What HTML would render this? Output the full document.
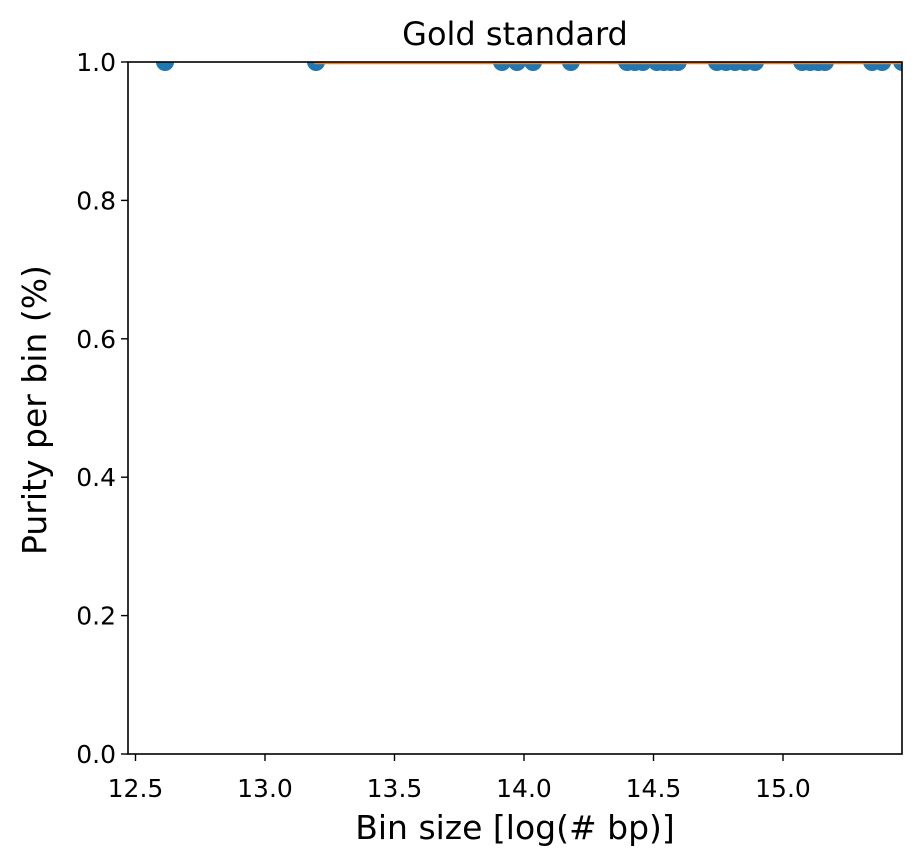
<!DOCTYPE html>
<html><head><meta charset="utf-8"><style>
body{margin:0;background:#fff;}
svg{display:block;font-family:"DejaVu Sans","Liberation Sans",sans-serif;}
</style></head><body>
<svg id="chart" width="922" height="867"></svg>
<script>
const xValues=[12.614,13.197,13.915,13.973,14.035,14.181,14.398,14.428,14.459,14.513,14.54,14.567,14.594,14.745,14.78,14.815,14.853,14.892,15.074,15.105,15.136,15.162,15.344,15.383,15.46];
const yValues=[1,1,1,1,1,1,1,1,1,1,1,1,1,1,1,1,1,1,1,1,1,1,1,1,1];
const lineX=[13.19,15.46];
const lineY=[1,1];
const xTicks=[12.5,13.0,13.5,14.0,14.5,15.0];
const xTickLabels=["12.5","13.0","13.5","14.0","14.5","15.0"];
const yTicks=[0,0.2,0.4,0.6,0.8,1.0];
const yTickLabels=["0.0","0.2","0.4","0.6","0.8","1.0"];
const L=128,R=902,T=62,B=754;
const X=v=>135.5+(v-12.5)*259;
const Y=v=>B-(v-0)/(1-0)*(B-T);
const svg=document.getElementById('chart');
const NS='http://www.w3.org/2000/svg';
function mk(tag,attrs,parent){const e=document.createElementNS(NS,tag);for(const k in attrs)e.setAttribute(k,attrs[k]);(parent||svg).appendChild(e);return e;}
const clip=mk('clipPath',{id:'clip'});mk('rect',{x:L,y:T,width:R-L,height:B-T},clip);
const pts=mk('g',{'clip-path':'url(#clip)'});


xValues.forEach((v,i)=>{const c=mk('circle',{cx:X(v),cy:Y(yValues[i]),r:9,fill:'#1f77b4'},pts);

});
const line=mk('polyline',{points:lineX.map((v,i)=>X(v)+','+(Y(lineY[i])+1.5)).join(' '),fill:'none',stroke:'#ff7f0e','stroke-width':1.5});


const frame=mk('rect',{x:L,y:T,width:R-L,height:B-T,fill:'none',stroke:'#000','stroke-width':1.6});


xTicks.forEach((v,i)=>{const x=X(v);mk('line',{x1:x,x2:x,y1:B,y2:B+7,stroke:'#000','stroke-width':1.4});
const t=mk('text',{x:x,y:B+43,'text-anchor':'middle','font-size':'25'});t.textContent=xTickLabels[i];

});
yTicks.forEach((v,i)=>{const y=Y(v);mk('line',{x1:L,x2:L-7,y1:y,y2:y,stroke:'#000','stroke-width':1.4});
const t=mk('text',{x:L-12,y:y+9,'text-anchor':'end','font-size':'25'});t.textContent=yTickLabels[i];

});
const title=mk('text',{x:515,y:45,'text-anchor':'middle','font-size':'32'});title.textContent='Gold standard';


const xt=mk('text',{x:515,y:839,'text-anchor':'middle','font-size':'33'});xt.textContent='Bin size [log(# bp)]';


const yt=mk('text',{x:0,y:0,'text-anchor':'middle','font-size':'33',transform:'translate(46,410) rotate(-90)'});yt.textContent='Purity per bin (%)';


</script>
</body></html>
